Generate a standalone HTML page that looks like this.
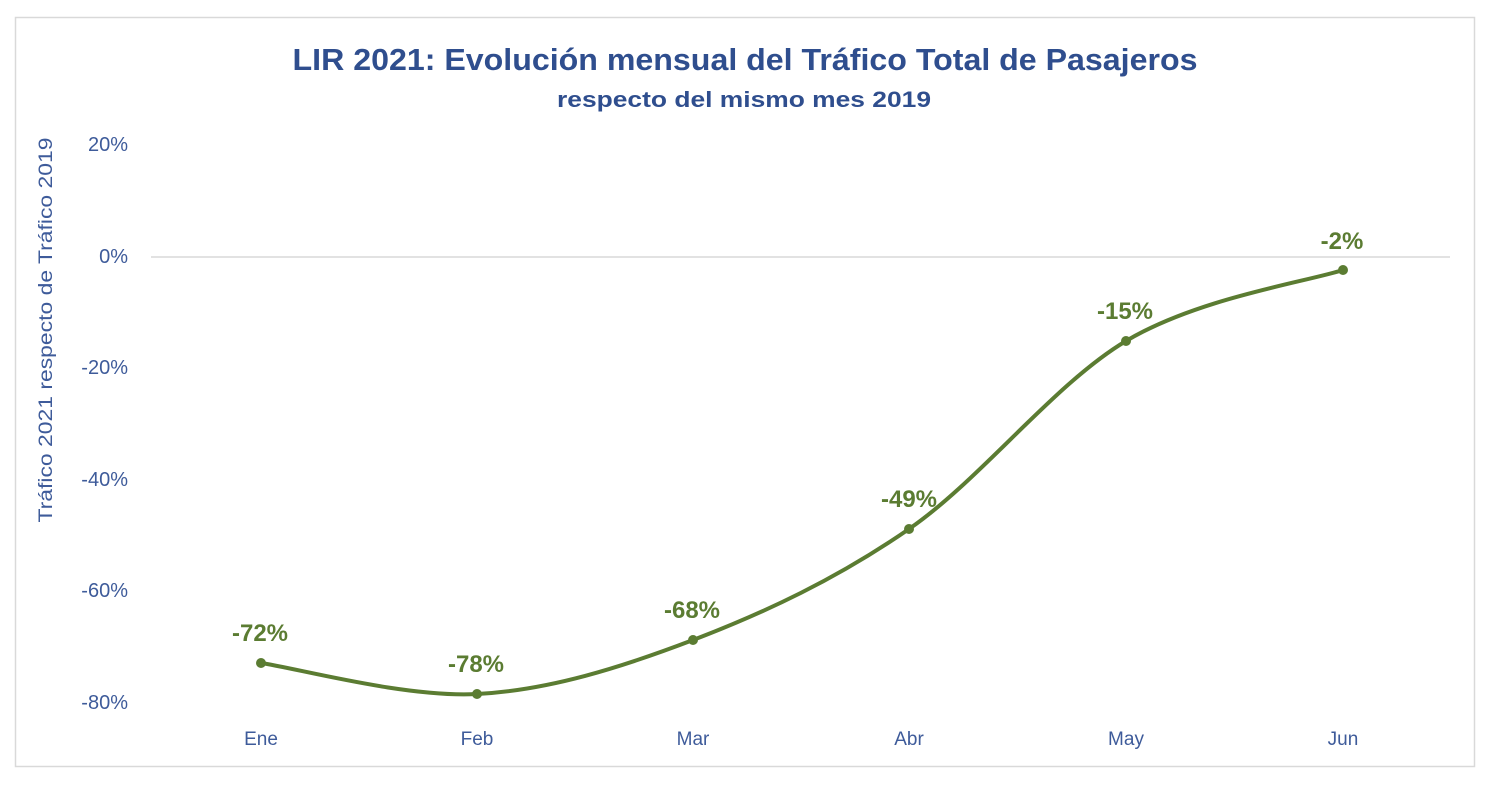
<!DOCTYPE html>
<html><head><meta charset="utf-8"><style>
html,body{margin:0;padding:0;background:#fff;}
svg{display:block;}
</style></head><body>
<svg width="1506" height="792" viewBox="0 0 1506 792" xmlns="http://www.w3.org/2000/svg" font-family="'Liberation Sans', sans-serif">
<rect x="0" y="0" width="1506" height="792" fill="#fff"/>
<rect x="15.5" y="17.5" width="1459" height="749" fill="#fff" stroke="#d9d9d9" stroke-width="1.5"/>
<text x="745" y="70" text-anchor="middle" font-size="31" font-weight="bold" fill="#2f4e8e" textLength="905" lengthAdjust="spacingAndGlyphs">LIR 2021: Evolución mensual del Tráfico Total de Pasajeros</text>
<text x="744" y="107" text-anchor="middle" font-size="22" font-weight="bold" fill="#2f4e8e" textLength="374" lengthAdjust="spacingAndGlyphs">respecto del mismo mes 2019</text>
<line x1="151" y1="257" x2="1450" y2="257" stroke="#d9d9d9" stroke-width="1.5"/>
<g font-size="20" fill="#3e5b9a" text-anchor="end">
<text x="128" y="151">20%</text>
<text x="128" y="263">0%</text>
<text x="128" y="374">-20%</text>
<text x="128" y="486">-40%</text>
<text x="128" y="597">-60%</text>
<text x="128" y="709">-80%</text>
</g>
<text transform="translate(52,330) rotate(-90)" text-anchor="middle" font-size="19" fill="#3e5b9a" textLength="385" lengthAdjust="spacingAndGlyphs">Tráfico 2021 respecto de Tráfico 2019</text>
<g font-size="19" fill="#3e5b9a" text-anchor="middle">
<text x="261" y="745">Ene</text>
<text x="477" y="745">Feb</text>
<text x="693" y="745">Mar</text>
<text x="909" y="745">Abr</text>
<text x="1126" y="745">May</text>
<text x="1343" y="745">Jun</text>
</g>
<path d="M261,663 C297,668.2 405,697.8 477,694 C549,690.2 621,667.5 693,640 C765,612.5 836.8,578.8 909,529 C981.2,479.2 1053.7,384.2 1126,341 C1198.3,297.8 1306.8,281.8 1343,270" fill="none" stroke="#5b7c32" stroke-width="4"/>
<g fill="#5b7c32">
<circle cx="261" cy="663" r="5"/><circle cx="477" cy="694" r="5"/><circle cx="693" cy="640" r="5"/>
<circle cx="909" cy="529" r="5"/><circle cx="1126" cy="341" r="5"/><circle cx="1343" cy="270" r="5"/>
</g>
<g font-size="24" font-weight="bold" fill="#5b7c32" text-anchor="middle">
<text x="260" y="641">-72%</text>
<text x="476" y="672">-78%</text>
<text x="692" y="618">-68%</text>
<text x="909" y="507">-49%</text>
<text x="1125" y="319">-15%</text>
<text x="1342" y="249">-2%</text>
</g>
</svg>
</body></html>
